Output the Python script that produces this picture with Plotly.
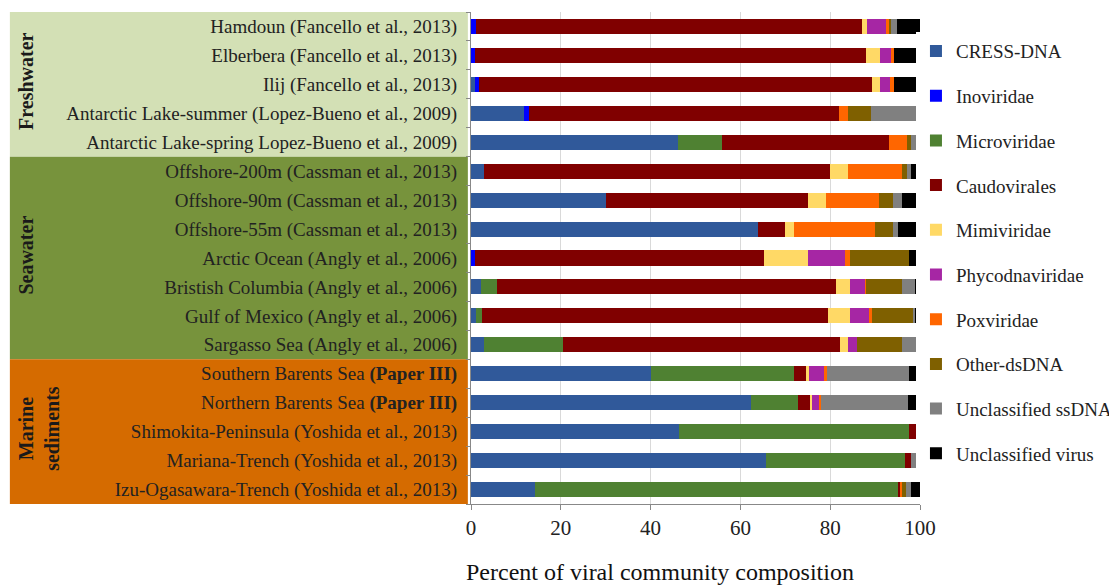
import plotly.graph_objects as go

sites = [
    "Hamdoun (Fancello et al., 2013)",
    "Elberbera (Fancello et al., 2013)",
    "Ilij (Fancello et al., 2013)",
    "Antarctic Lake-summer (Lopez-Bueno et al., 2009)",
    "Antarctic Lake-spring Lopez-Bueno et al., 2009)",
    "Offshore-200m (Cassman et al., 2013)",
    "Offshore-90m (Cassman et al., 2013)",
    "Offshore-55m (Cassman et al., 2013)",
    "Arctic Ocean (Angly et al., 2006)",
    "Bristish Columbia (Angly et al., 2006)",
    "Gulf of Mexico (Angly et al., 2006)",
    "Sargasso Sea (Angly et al., 2006)",
    "Southern Barents Sea (Paper III)",
    "Northern Barents Sea (Paper III)",
    "Shimokita-Peninsula (Yoshida et al., 2013)",
    "Mariana-Trench (Yoshida et al., 2013)",
    "Izu-Ogasawara-Trench (Yoshida et al., 2013)",
]
site_labels = [s.replace("(Paper III)", "<b>(Paper III)</b>") for s in sites]

cress = [0, 0, 0.8, 11.9, 46.0, 3.0, 30.0, 63.9, 0, 2.2, 1.1, 3.0, 40.1, 62.4, 46.3, 65.6, 14.3]
inoviridae = [1.1, 1.0, 0.9, 1.1, 0, 0, 0, 0, 1.0, 0, 0, 0, 0, 0, 0, 0, 0]
microviridae = [0, 0, 0, 0, 10.0, 0, 0, 0, 0, 3.7, 1.3, 17.6, 31.9, 10.4, 51.2, 31.0, 80.9]
caudovirales = [85.9, 87.0, 87.5, 69.0, 37.0, 77.0, 45.0, 6.0, 64.3, 75.5, 77.0, 61.6, 2.8, 2.7, 2.5, 1.4, 0.5]
mimiviridae = [1.1, 3.2, 2.0, 0, 0, 3.9, 4.0, 2.0, 9.7, 3.0, 5.0, 1.8, 0.4, 0.4, 0, 0, 0]
phycodnaviridae = [4.3, 2.5, 2.1, 0, 0, 0, 0, 0, 8.4, 3.4, 4.3, 2.0, 3.5, 1.5, 0, 0, 0]
poxviridae = [0.6, 0.4, 0.8, 2.0, 4.0, 12.0, 11.9, 18.1, 0.9, 0.2, 0.7, 0, 0.5, 0.6, 0, 0, 0.2]
other_dsdna = [0.5, 0, 0, 5.0, 1.0, 1.1, 3.0, 3.9, 13.2, 8.1, 9.1, 10.0, 0, 0, 0, 0, 1.0]
unclass_ssdna = [1.3, 0, 0, 10.0, 2.0, 0.9, 2.1, 1.1, 0, 2.8, 0.4, 4.0, 18.4, 19.3, 0, 1.0, 1.1]
unclass_virus = [5.2, 5.9, 5.9, 1.0, 0, 2.1, 4.0, 5.0, 2.5, 1.1, 1.1, 0, 2.4, 2.7, 0, 1.0, 2.0]

series = [
    ("CRESS-DNA", cress, "#30599a"),
    ("Inoviridae", inoviridae, "#0000ff"),
    ("Microviridae", microviridae, "#4f8132"),
    ("Caudovirales", caudovirales, "#800000"),
    ("Mimiviridae", mimiviridae, "#ffd966"),
    ("Phycodnaviridae", phycodnaviridae, "#a626a4"),
    ("Poxviridae", poxviridae, "#ff6600"),
    ("Other-dsDNA", other_dsdna, "#7f6000"),
    ("Unclassified ssDNA", unclass_ssdna, "#808080"),
    ("Unclassified virus", unclass_virus, "#000000"),
]

groups = [
    ("Freshwater", 0, 4, "#d3e0b5", -0.99),
    ("Seawater", 5, 11, "#77933c", -0.99),
    ("Marine<br>sediments", 12, 16, "#d56b00", -0.962),
]

SERIF = "Liberation Serif"

fig = go.Figure()
for name, vals, col in series:
    fig.add_trace(go.Bar(
        y=sites, x=vals, name=name, orientation="h",
        marker=dict(color=col, line=dict(width=0)),
        legendgroup=name,
    ))

n = len(sites)
for gname, i0, i1, col, ax in groups:
    top = i0 - 0.5 if i0 > 0 else -0.67
    fig.add_shape(type="rect", xref="paper", yref="y",
                  x0=-1.027, x1=-0.007, y0=top, y1=i1 + 0.5,
                  fillcolor=col, line=dict(width=0), layer="below")
    fig.add_annotation(xref="paper", yref="y", x=ax, y=(i0 + i1) / 2 - 0.1,
                       text="<b>" + gname + "</b>", textangle=-90, showarrow=False,
                       font=dict(family=SERIF, size=20, color="#1a1a1a"),
                       xanchor="center", yanchor="middle")

fig.add_annotation(xref="paper", yref="paper", x=0.421, y=-0.138,
                   text="Percent of viral community composition", showarrow=False,
                   font=dict(family=SERIF, size=24, color="#111111"),
                   xanchor="center", yanchor="middle")

fig.update_layout(
    width=1109, height=577,
    margin=dict(l=463, r=197, t=4, b=81, autoexpand=False),
    barmode="stack", bargap=0.48,
    plot_bgcolor="white", paper_bgcolor="white",
    font=dict(family=SERIF, size=19, color="#222222"),
    legend=dict(x=0.991, y=0.959, xanchor="left", yanchor="top",
                traceorder="grouped", tracegroupgap=17,
                font=dict(family=SERIF, size=19, color="#222222"),
                itemwidth=30),
    showlegend=True,
)
fig.update_xaxes(range=[0, 100], tickvals=[0, 20, 40, 60, 80, 100],
                 showgrid=True, gridcolor="#d9d9d9", gridwidth=1,
                 showline=True, linecolor="#888888", linewidth=1,
                 ticks="outside", ticklen=5, tickcolor="#888888",
                 tickfont=dict(family=SERIF, size=21, color="#222222"),
                 zeroline=False, fixedrange=True, automargin=False)
fig.update_yaxes(categoryorder="array", categoryarray=sites,
                 tickvals=sites, ticktext=site_labels,
                 range=[n - 0.5, -0.5],
                 showline=True, linecolor="#888888", linewidth=1,
                 ticks="outside", ticklen=4, tickcolor="#888888",
                 tickson="boundaries", ticklabelstandoff=9,
                 tickfont=dict(family=SERIF, size=19, color="#222222"),
                 showgrid=False, fixedrange=True, automargin=False)

fig.write_html("out.html")
